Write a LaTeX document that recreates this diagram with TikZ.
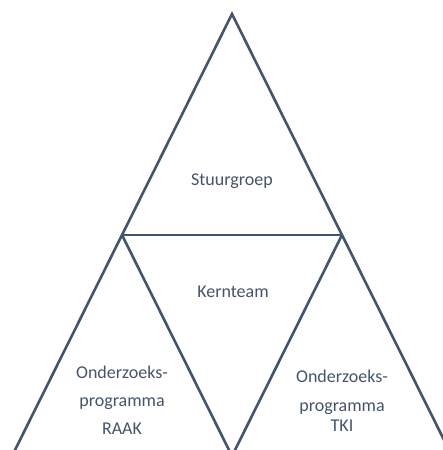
\documentclass[tikz,border=0pt]{standalone}
\usepackage{fontspec}
\setmainfont{Carlito}
\usetikzlibrary{calc}
\definecolor{slate}{HTML}{44546A}
\tikzset{
  edge/.style={draw=slate, line width=2.6bp, line join=miter},
  lbl/.style={text=slate, anchor=base, inner sep=0pt, font=\fontsize{18bp}{22bp}\selectfont}
}
\begin{document}
\begin{tikzpicture}[x=1bp,y=-1bp]
\useasboundingbox (0,0) rectangle (443,450);
\clip (0,0) rectangle (443,450);
\coordinate (apex) at (232,14);
\coordinate (midL) at (122,235);
\coordinate (midR) at (342,235);
\coordinate (botL) at ($(apex)!1.98!(midL)$);
\coordinate (botR) at ($(apex)!1.98!(midR)$);
\coordinate (vtip) at (232,456);
\draw[edge] (botL) -- (apex) -- (botR);
\draw[edge] (midL) -- (midR);
\draw[edge] (midL) -- (vtip) -- (midR);
\node[lbl] (stuur) at (232,186) {Stuurgroep};
\node[lbl] (kern) at (233,297) {Kernteam};
\node[lbl] (raak1) at (122,378) {Onderzoeks-};
\node[lbl] (raak2) at (122,406) {programma};
\node[lbl] (raak3) at (122,434) {RAAK};
\node[lbl] (tki1) at (342,382) {Onderzoeks-};
\node[lbl] (tki2) at (342,411) {programma};
\node[lbl] (tki3) at (342,431) {TKI};
\end{tikzpicture}
\end{document}
